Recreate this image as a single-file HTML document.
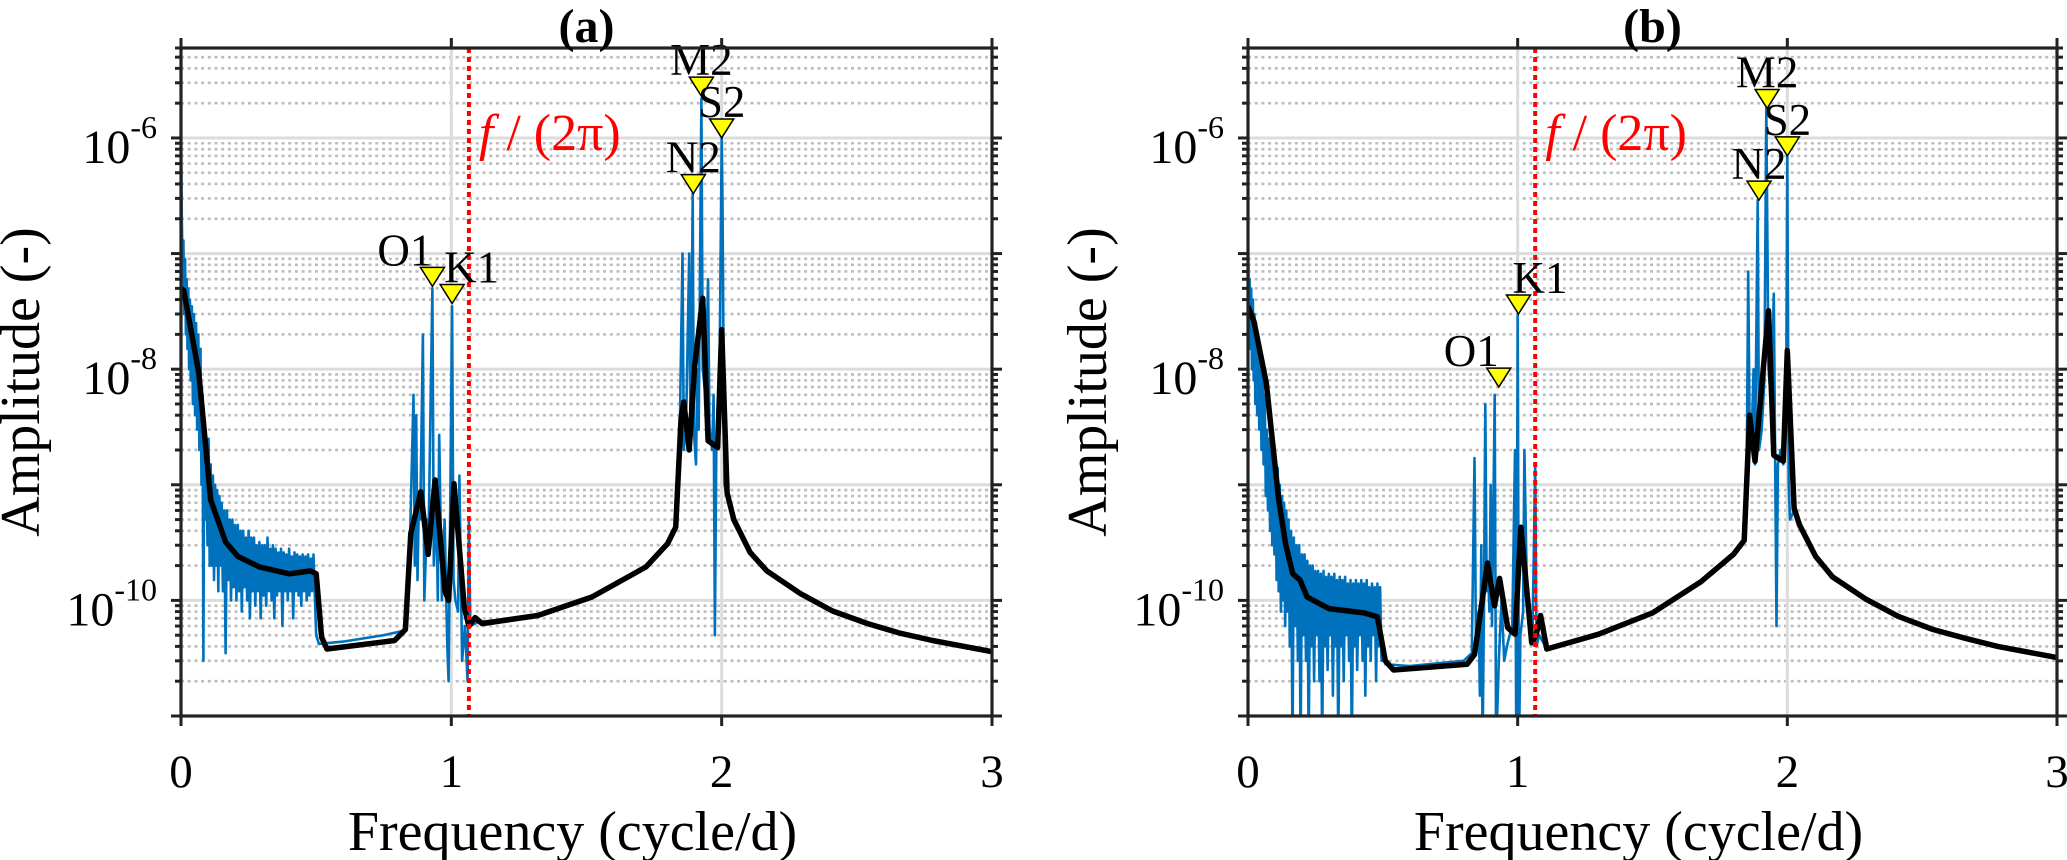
<!DOCTYPE html>
<html><head><meta charset="utf-8">
<style>
html,body{margin:0;padding:0;background:#fff;}
svg{display:block;font-family:"Liberation Serif","Times New Roman",serif;}
</style></head>
<body>
<svg id="fig" width="2067" height="860" viewBox="0 0 2067 860" xmlns="http://www.w3.org/2000/svg"></svg>
<script>
// ---------- data ----------
const xTickValues = [0, 1, 2, 3];
const xTickLabels = ["0", "1", "2", "3"];
const yTickExps = [-6, -8, -10];
const yTickLabels = ["-6", "-8", "-10"];
const inertialFreq = 1.065;

const panelTitles = ["(a)", "(b)"];

const blueFreqA = [0,0.003,0.006,0.009,0.012,0.015,0.018,0.021,0.024,0.027,0.030,0.033,0.036,0.040,0.044,0.048,0.052,0.056,0.060,0.064,0.068,0.072,0.076,0.080,0.083,0.086,0.090,0.094,0.098,0.102,0.106,0.110,0.114,0.118,0.122,0.126,0.130,0.134,0.138,0.142,0.146,0.150,0.155,0.160,0.165,0.170,0.175,0.180,0.185,0.190,0.195,0.200,0.205,0.210,0.215,0.220,0.225,0.230,0.235,0.240,0.245,0.250,0.255,0.260,0.265,0.270,0.275,0.280,0.285,0.290,0.295,0.300,0.305,0.310,0.315,0.320,0.325,0.330,0.335,0.340,0.345,0.350,0.355,0.360,0.365,0.370,0.375,0.380,0.385,0.390,0.395,0.400,0.405,0.410,0.415,0.420,0.425,0.430,0.435,0.440,0.445,0.450,0.455,0.460,0.465,0.470,0.475,0.480,0.485,0.490,0.495,0.500,0.51,0.6,0.75,0.83,0.845,0.86,0.865,0.87,0.875,0.88,0.885,0.895,0.90,0.91,0.915,0.93,0.935,0.945,0.95,0.955,0.965,0.975,0.985,0.99,1.003,1.008,1.015,1.025,1.03,1.04,1.05,1.06,1.065,1.07,1.1,1.32,1.52,1.72,1.8,1.83,1.845,1.855,1.86,1.87,1.88,1.885,1.893,1.897,1.905,1.91,1.915,1.925,1.93,1.94,1.95,1.955,1.965,1.97,1.975,1.98,1.99,2.0,2.003,2.01,2.02,2.045,2.105,2.167,2.29,2.41,2.54,2.66,2.78,3.0];
const blueAmpA = [1.2e-6,2e-7,8e-8,1.3e-7,3e-8,9e-8,2e-8,6e-8,1.5e-8,5e-8,1e-8,4e-8,8e-9,3.5e-8,5e-9,3e-8,4e-9,2.5e-8,3e-9,2e-8,2e-9,1.5e-8,1e-9,6e-9,3e-11,3e-9,5e-10,2e-9,3e-10,2.5e-9,2e-10,1.5e-9,2e-10,1.2e-9,1.5e-10,1e-9,2e-10,9e-10,1.2e-10,8e-10,2e-10,7e-10,1.2e-10,6e-10,3.5e-11,6e-10,1.5e-10,5e-10,1e-10,5e-10,1.3e-10,4.5e-10,1e-10,4.5e-10,1.2e-10,4e-10,8e-11,4e-10,1.3e-10,3.5e-10,1e-10,4e-10,7e-11,3.5e-10,1.2e-10,3.5e-10,9e-11,3e-10,1.2e-10,3.2e-10,7e-11,3e-10,1.1e-10,3e-10,9e-11,3.5e-10,1.2e-10,2.8e-10,1e-10,3e-10,7e-11,2.8e-10,1.1e-10,2.6e-10,1.2e-10,2.8e-10,6e-11,2.6e-10,1.2e-10,2.5e-10,1e-10,2.8e-10,1.2e-10,2.4e-10,7e-11,2.6e-10,1.2e-10,2.5e-10,1.1e-10,2.4e-10,9e-11,2.5e-10,1.2e-10,2.4e-10,1e-10,2.5e-10,1.1e-10,2.3e-10,1.2e-10,2.5e-10,1.1e-10,5e-11,4.2e-11,4.4e-11,5e-11,5.5e-11,2e-10,6e-9,2e-10,4e-9,1.5e-10,8e-10,5e-10,2e-8,1e-10,5e-10,3e-10,5e-8,2e-10,6e-10,1e-10,2.7e-9,1e-10,5e-10,4e-11,2e-11,3.5e-8,1.5e-10,1e-10,8e-11,1.2e-9,3e-11,6e-11,2e-11,5e-10,6e-11,6.5e-11,7.4e-11,1.07e-10,1.95e-10,3.1e-10,4.3e-10,3e-9,1e-7,2e-9,5e-9,1e-7,2e-9,3.3e-7,3e-9,1.5e-9,1e-8,3e-9,2.2e-6,1e-8,6e-9,6e-8,3e-9,2e-9,6e-9,5e-11,2e-9,3e-9,1e-6,2.8e-7,1e-9,8e-10,5e-10,2.6e-10,1.8e-10,1.15e-10,8.1e-11,6.3e-11,5.2e-11,4.5e-11,3.6e-11];

const blackFreqA = [0,0.01,0.066,0.11,0.165,0.21,0.29,0.4,0.48,0.5,0.52,0.54,0.79,0.83,0.85,0.887,0.914,0.94,0.977,0.99,1.01,1.048,1.065,1.088,1.114,1.32,1.52,1.72,1.8,1.83,1.85,1.86,1.88,1.9,1.93,1.95,1.985,2.0,2.02,2.045,2.105,2.167,2.29,2.41,2.54,2.66,2.78,3.0];
const blackAmpA = [5e-8,4.8e-8,9.3e-9,7.4e-10,3.2e-10,2.4e-10,1.95e-10,1.7e-10,1.8e-10,1.7e-10,4.8e-11,3.8e-11,4.5e-11,5.6e-11,3.8e-10,8.7e-10,2.5e-10,1.1e-9,1.2e-10,1e-10,1.02e-9,8.7e-11,6e-11,7.1e-11,6.3e-11,7.4e-11,1.07e-10,1.95e-10,3.1e-10,4.3e-10,3.8e-9,5.2e-9,2e-9,1.05e-8,4.1e-8,2.4e-9,2.1e-9,2.2e-8,8.5e-10,5e-10,2.6e-10,1.8e-10,1.15e-10,8.1e-11,6.3e-11,5.2e-11,4.5e-11,3.6e-11];

const blueFreqB = [0,0.003,0.006,0.009,0.012,0.015,0.018,0.021,0.024,0.027,0.030,0.034,0.038,0.042,0.046,0.050,0.054,0.058,0.062,0.066,0.070,0.074,0.078,0.082,0.086,0.090,0.094,0.098,0.102,0.106,0.110,0.114,0.118,0.122,0.126,0.130,0.134,0.138,0.142,0.146,0.150,0.155,0.160,0.165,0.170,0.175,0.180,0.185,0.190,0.195,0.200,0.205,0.210,0.215,0.220,0.225,0.230,0.235,0.240,0.245,0.250,0.255,0.260,0.265,0.270,0.275,0.280,0.285,0.290,0.295,0.300,0.305,0.310,0.315,0.320,0.325,0.330,0.335,0.340,0.345,0.350,0.355,0.360,0.365,0.370,0.375,0.380,0.385,0.390,0.395,0.400,0.405,0.410,0.415,0.420,0.425,0.430,0.435,0.440,0.445,0.450,0.455,0.460,0.465,0.470,0.475,0.480,0.485,0.490,0.495,0.500,0.51,0.6,0.8,0.83,0.84,0.845,0.855,0.86,0.865,0.87,0.875,0.88,0.885,0.89,0.895,0.90,0.905,0.915,0.92,0.93,0.94,0.95,0.96,0.97,0.98,0.99,0.995,1.0,1.005,1.01,1.02,1.025,1.035,1.045,1.055,1.065,1.07,1.08,1.108,1.3,1.5,1.68,1.8,1.84,1.85,1.855,1.86,1.87,1.875,1.88,1.89,1.895,1.905,1.915,1.922,1.93,1.94,1.95,1.96,1.965,1.975,1.985,1.995,2.0,2.005,2.01,2.025,2.045,2.105,2.167,2.29,2.41,2.54,2.66,2.78,3.0];
const blueAmpB = [1.5e-7,3e-8,6e-8,1.5e-8,5e-8,1e-8,4e-8,8e-9,3e-8,5e-9,2.5e-8,4e-9,2e-8,3e-9,1.5e-8,2e-9,1e-8,1.5e-9,6e-9,8e-10,3e-9,6e-10,2.5e-9,4e-10,2e-9,3e-10,1.8e-9,2.5e-10,1.5e-9,1.5e-10,1.4e-9,1.2e-10,1e-9,8e-11,8e-10,1e-10,7e-10,6e-11,6e-10,8e-11,5e-10,4e-11,4e-10,5e-12,3.5e-10,6e-11,3e-10,3e-11,3e-10,5e-12,2.5e-10,5e-11,2.5e-10,3e-11,2.2e-10,5e-12,2e-10,4e-11,2e-10,2e-11,1.8e-10,5e-11,1.8e-10,2e-11,1.7e-10,5e-12,1.8e-10,4e-11,1.6e-10,2.5e-11,1.7e-10,5e-11,1.6e-10,1.5e-11,1.7e-10,4e-11,1.5e-10,5e-12,1.6e-10,4e-11,1.5e-10,2e-11,1.6e-10,5e-11,1.4e-10,3e-11,1.5e-10,5e-12,1.4e-10,4e-11,1.5e-10,2.5e-11,1.4e-10,5e-11,1.5e-10,3e-11,1.4e-10,1.5e-11,1.5e-10,4e-11,1.3e-10,3e-11,1.4e-10,5e-11,1.3e-10,2e-11,1.4e-10,4e-11,1.3e-10,3e-11,3.5e-11,2.8e-11,2.7e-11,3e-11,3.5e-11,1.7e-9,5e-11,8e-11,1.5e-11,3e-10,5e-12,1e-10,5e-9,1.2e-10,2e-10,8e-11,1e-9,6e-11,6e-9,5e-12,3e-11,1e-10,3e-11,4e-11,5e-11,6e-11,2e-9,5e-12,3e-8,5e-12,5e-11,8e-11,2e-9,1e-10,8e-11,5e-11,1.5e-9,4e-11,5e-11,3.8e-11,5.1e-11,7.8e-11,1.45e-10,2.5e-10,3.3e-10,2e-9,7e-8,3e-9,4e-9,1e-8,1.5e-9,2.9e-7,2e-9,3e-9,8e-9,1.8e-6,1e-8,5e-9,4.5e-8,6e-11,1.5e-9,2e-9,1.5e-9,3e-9,7e-7,1e-9,5e-10,6e-10,4.5e-10,2.4e-10,1.6e-10,1.03e-10,7.3e-11,5.6e-11,4.7e-11,4e-11,3.2e-11];

const blackFreqB = [0,0.022,0.068,0.114,0.14,0.166,0.193,0.219,0.3,0.43,0.48,0.509,0.54,0.812,0.84,0.888,0.914,0.933,0.963,0.99,1.012,1.052,1.068,1.085,1.108,1.3,1.5,1.68,1.8,1.84,1.86,1.88,1.93,1.95,1.985,2.0,2.025,2.045,2.105,2.167,2.29,2.41,2.54,2.66,2.78,3.0];
const blackAmpB = [3.5e-8,2.6e-8,7.6e-9,7.4e-10,3e-10,1.7e-10,1.5e-10,1.07e-10,8.5e-11,7.8e-11,7.2e-11,3e-11,2.5e-11,2.8e-11,3.4e-11,2.1e-10,9e-11,1.55e-10,5.8e-11,5.1e-11,4.3e-10,4.3e-11,5e-11,7.4e-11,3.8e-11,5.1e-11,7.8e-11,1.45e-10,2.5e-10,3.3e-10,4e-9,1.6e-9,3.2e-8,1.8e-9,1.6e-9,1.45e-8,6.3e-10,4.5e-10,2.4e-10,1.6e-10,1.03e-10,7.3e-11,5.6e-11,4.7e-11,4e-11,3.2e-11];

const markerNames = ["O1","K1","N2","M2","S2"];
const markerFreq = [0.93, 1.003, 1.895, 1.925, 2.0];
const markerAmpA = [5.2e-8, 3.7e-8, 3.3e-7, 2.3e-6, 1e-6];
const markerAmpB = [7e-9, 3e-8, 2.9e-7, 1.8e-6, 7e-7];
const markerAnchorA = ["end","start","middle","middle","middle"];
const markerAnchorB = ["end","start","middle","middle","middle"];
const markerDxA = [0, -8, 0, 0, 0];
const markerDxB = [0, -6, 0, 0, 0];

// ---------- layout ----------
const NS = "http://www.w3.org/2000/svg";
const svg = document.getElementById("fig");
const TOP = 48, BOT = 716;
const YMIN = -11, YMAX = Math.log10(6e-6);
const panels = [
  {left:181, right:992, title:panelTitles[0], bf:blueFreqA, ba:blueAmpA, kf:blackFreqA, ka:blackAmpA, ma:markerAmpA, anc:markerAnchorA, dx:markerDxA, id:"a"},
  {left:1248, right:2057, title:panelTitles[1], bf:blueFreqB, ba:blueAmpB, kf:blackFreqB, ka:blackAmpB, ma:markerAmpB, anc:markerAnchorB, dx:markerDxB, id:"b"}
];
function yOf(v){ const l=Math.log10(v); return BOT - (l-YMIN)/(YMAX-YMIN)*(BOT-TOP); }
function mk(tag, attrs, parent){ const e=document.createElementNS(NS,tag); for(const k in attrs) e.setAttribute(k,attrs[k]); (parent||svg).appendChild(e); return e; }

const defs = mk("defs",{});
panels.forEach(p=>{
  const xOf = f => p.left + f/3*(p.right-p.left);
  const g = mk("g",{});
  
  
  const cp = mk("clipPath",{id:"clip"+p.id},defs);
  mk("rect",{x:p.left,y:TOP,width:p.right-p.left,height:BOT-TOP},cp);

  const grid = mk("g",{},g);
  
  
  for(let n=-11;n<=-6;n++){
    for(let k=2;k<=9;k++){
      const v=k*Math.pow(10,n); if(Math.log10(v)>YMAX) continue;
      const y=yOf(v);
      const l=mk("line",{x1:p.left,x2:p.right,y1:y,y2:y,stroke:"#bdbdbd","stroke-width":2.6,"stroke-dasharray":"3 3.7"},grid);
      
      
    }
    if(n>-11){
      const y=yOf(Math.pow(10,n));
      const l=mk("line",{x1:p.left,x2:p.right,y1:y,y2:y,stroke:"#dcdcdc","stroke-width":3},grid);
      
      
    }
  }
  xTickValues.forEach(t=>{ if(t>0&&t<3){ const x=xOf(t);
    const l=mk("line",{x1:x,x2:x,y1:TOP,y2:BOT,stroke:"#dcdcdc","stroke-width":3},grid);
    
    
  }});

  const plot = mk("g",{"clip-path":"url(#clip"+p.id+")"},g);
  let d=""; p.bf.forEach((f,i)=>{ d+=(i?"L":"M")+xOf(f).toFixed(1)+" "+yOf(p.ba[i]).toFixed(1); });
  const blue=mk("path",{d:d,fill:"none",stroke:"#0072BD","stroke-width":2.6,"stroke-linejoin":"round"},plot);
  
  
  d=""; p.kf.forEach((f,i)=>{ d+=(i?"L":"M")+xOf(f).toFixed(1)+" "+yOf(p.ka[i]).toFixed(1); });
  const black=mk("path",{d:d,fill:"none",stroke:"#000","stroke-width":5.5,"stroke-linejoin":"round"},plot);
  
  

  const xi=xOf(inertialFreq);
  const red=mk("line",{x1:xi,x2:xi,y1:TOP,y2:BOT,stroke:"#ff0000","stroke-width":4,"stroke-dasharray":"5 4"},g);
  
  
  const rt=mk("text",{x:xi+10,y:150,fill:"#ff0000","font-size":52},g);
  
  
  rt.innerHTML='<tspan font-style="italic">f</tspan> / (2π)';

  markerNames.forEach((nm,i)=>{
    const x=xOf(markerFreq[i]), y=yOf(p.ma[i]);
    const tri=mk("path",{d:`M${x-12} ${y-19}L${x+12} ${y-19}L${x} ${y}Z`,fill:"#ffff00",stroke:"#000","stroke-width":1.5},g);
    
    
    const t=mk("text",{x:x+p.dx[i],y:y-21,"font-size":45,"text-anchor":p.anc[i],fill:"#000"},g);
    
    
    t.textContent=nm;
  });

  const box=mk("rect",{x:p.left,y:TOP,width:p.right-p.left,height:BOT-TOP,fill:"none",stroke:"#222","stroke-width":3.2},g);
  
  

  const ticks=mk("g",{stroke:"#222","stroke-width":3},g);
  
  
  for(let n=-11;n<=-6;n++){
    for(let k=1;k<=9;k++){
      const v=k*Math.pow(10,n); if(Math.log10(v)>YMAX+1e-9) continue;
      const y=yOf(v), L=(k===1)?10:6;
      mk("line",{x1:p.left-L,x2:p.left,y1:y,y2:y},ticks);
      mk("line",{x1:p.right,x2:p.right+L,y1:y,y2:y},ticks);
    }
  }
  xTickValues.forEach((t,i)=>{
    const x=xOf(t);
    mk("line",{x1:x,x2:x,y1:BOT,y2:BOT+10},ticks);
    mk("line",{x1:x,x2:x,y1:TOP-10,y2:TOP},ticks);
    const tl=mk("text",{x:x,y:787,"font-size":47,"text-anchor":"middle"},g);
    
    
    tl.textContent=xTickLabels[i];
  });
  yTickExps.forEach((e,i)=>{
    const y=yOf(Math.pow(10,e));
    const tl=mk("text",{x:p.left-24,y:y+25,"font-size":48,"text-anchor":"end"},g);
    
    
    tl.innerHTML='10<tspan font-size="32" dy="-25">'+yTickLabels[i]+'</tspan>';
  });

  const cx=(p.left+p.right)/2;
  const tt=mk("text",{x:cx,y:42,"font-size":48,"font-weight":"bold","text-anchor":"middle"},g);
  
  
  tt.textContent=p.title;
  const xl=mk("text",{x:cx-14,y:850,"font-size":56,"text-anchor":"middle"},g);
  
  
  xl.textContent="Frequency (cycle/d)";
  const yx=p.left-142;
  const yl=mk("text",{x:yx,y:382,"font-size":56,"text-anchor":"middle",transform:`rotate(-90 ${yx} 382)`},g);
  
  
  yl.textContent="Amplitude (-)";
});
</script>
</body></html>
